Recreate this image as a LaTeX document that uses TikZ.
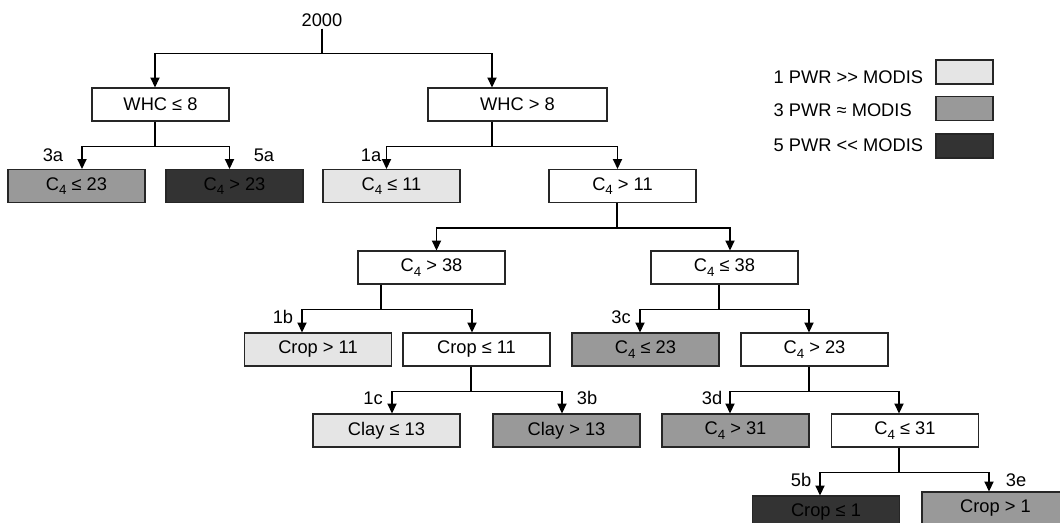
\documentclass[tikz,border=0pt]{standalone}
\usepackage{fontspec}
\setmainfont{Liberation Sans}
\usetikzlibrary{arrows.meta}

\definecolor{pwrhigh}{gray}{0.90}
\definecolor{pwrsame}{gray}{0.60}
\definecolor{pwrlow}{gray}{0.20}
\newcommand{\tfont}{\fontsize{13}{15}\selectfont}
\newcommand{\Cf}{C\raisebox{-0.45ex}{\fontsize{9.5}{10}\selectfont 4}}

\begin{document}
\begin{tikzpicture}[x=0.025cm,y=-0.025cm,>={Triangle[width=6.5pt,length=7pt]},
  line width=1pt,
  leaf/.style={draw=black!85,line width=0.8pt,fill=white,minimum width=3.675cm,
    minimum height=0.825cm,inner sep=0pt,font=\tfont},
  narrow/.style={minimum width=3.425cm},
  hi/.style={fill=pwrhigh},
  eq/.style={fill=pwrsame},
  lo/.style={fill=pwrlow},
  lab/.style={font=\tfont,inner sep=0pt},
  key/.style={draw=black!85,line width=0.8pt,minimum width=1.425cm,minimum height=0.6cm,inner sep=0pt},
  arr/.style={->}]
  \useasboundingbox (0,0) rectangle (1060,523);

  \node[lab,inner sep=1pt] (root) at (322,20) {2000};

  \node[leaf,narrow] (whcA) at (160.5,104.5) {WHC ≤ 8};
  \node[leaf,minimum width=4.475cm] (whcB) at (517.5,104.5) {WHC > 8};

  \node[leaf,narrow,eq] (c4a) at (76.5,186) {\Cf{} ≤ 23};
  \node[leaf,narrow,lo] (c4b) at (234.5,186) {\Cf{} > 23};
  \node[leaf,narrow,hi] (c4c) at (391.5,186) {\Cf{} ≤ 11};
  \node[leaf] (c4d) at (622.5,186) {\Cf{} > 11};

  \node[leaf] (c4e) at (431.5,267.5) {\Cf{} > 38};
  \node[leaf] (c4f) at (724.5,267.5) {\Cf{} ≤ 38};

  \node[leaf,hi] (crA) at (318,349.5) {Crop > 11};
  \node[leaf] (crB) at (476.5,349.5) {Crop ≤ 11};
  \node[leaf,eq] (c4g) at (645.5,349.5) {\Cf{} ≤ 23};
  \node[leaf] (c4h) at (814.5,349.5) {\Cf{} > 23};

  \node[leaf,hi] (clA) at (386.5,430.5) {Clay ≤ 13};
  \node[leaf,eq] (clB) at (566.5,430.5) {Clay > 13};
  \node[leaf,eq] (c4i) at (735.5,430.5) {\Cf{} > 31};
  \node[leaf] (c4j) at (905,430.5) {\Cf{} ≤ 31};

  \node[leaf,lo] (crC) at (826,512.5) {Crop ≤ 1};
  \node[leaf,eq] (crD) at (995.5,508.5) {Crop > 1};

  % forks: parent, stem offset, child, arrow offset
  \foreach \p/\ps/\c/\cs in {root/0/whcA/-5.5, root/0/whcB/-25.5,
      whcA/-5.5/c4a/5.5, whcA/-5.5/c4b/-5, whcB/-25.5/c4c/-5, whcB/-25.5/c4d/-5,
      c4d/-5.5/c4e/5, c4d/-5.5/c4f/5.5,
      c4e/-50.5/crA/-16, c4e/-50.5/crB/-4.5, c4f/-5.5/c4g/-5.5, c4f/-5.5/c4h/-5.5,
      crB/-5.5/clA/5.5, crB/-5.5/clB/-4.5, c4h/-5.5/c4i/-5.5, c4h/-5.5/c4j/-6,
      c4j/-6/crC/-6, c4j/-6/crD/-6.5}
    \draw[arr] ([shift={(\ps,0)}]\p.south) -- ++(0,25) -| ([shift={(\cs,0)}]\c.north);

  \foreach \x/\y/\t in {53/155/3a, 264/155/5a, 371/155/1a, 283/317/1b, 621/317/3c,
      373/398/1c, 587/398/3b, 712/398/3d, 801/480/5b, 1016/480/3e}
    \node[lab] at (\x,\y) {\t};

  % legend
  \node[key,hi] (k1) at (964.5,72) {};
  \node[key,eq] (k3) at (964.5,108.5) {};
  \node[key,lo] (k5) at (964.5,146) {};
  \node[lab,anchor=west] (t1) at (773,77) {1 PWR >\kern0pt> MODIS};
  \node[lab,anchor=west] (t3) at (773,110) {3 PWR ≈ MODIS};
  \node[lab,anchor=west] (t5) at (773,145) {5 PWR <\kern0pt< MODIS};
\end{tikzpicture}
\end{document}
